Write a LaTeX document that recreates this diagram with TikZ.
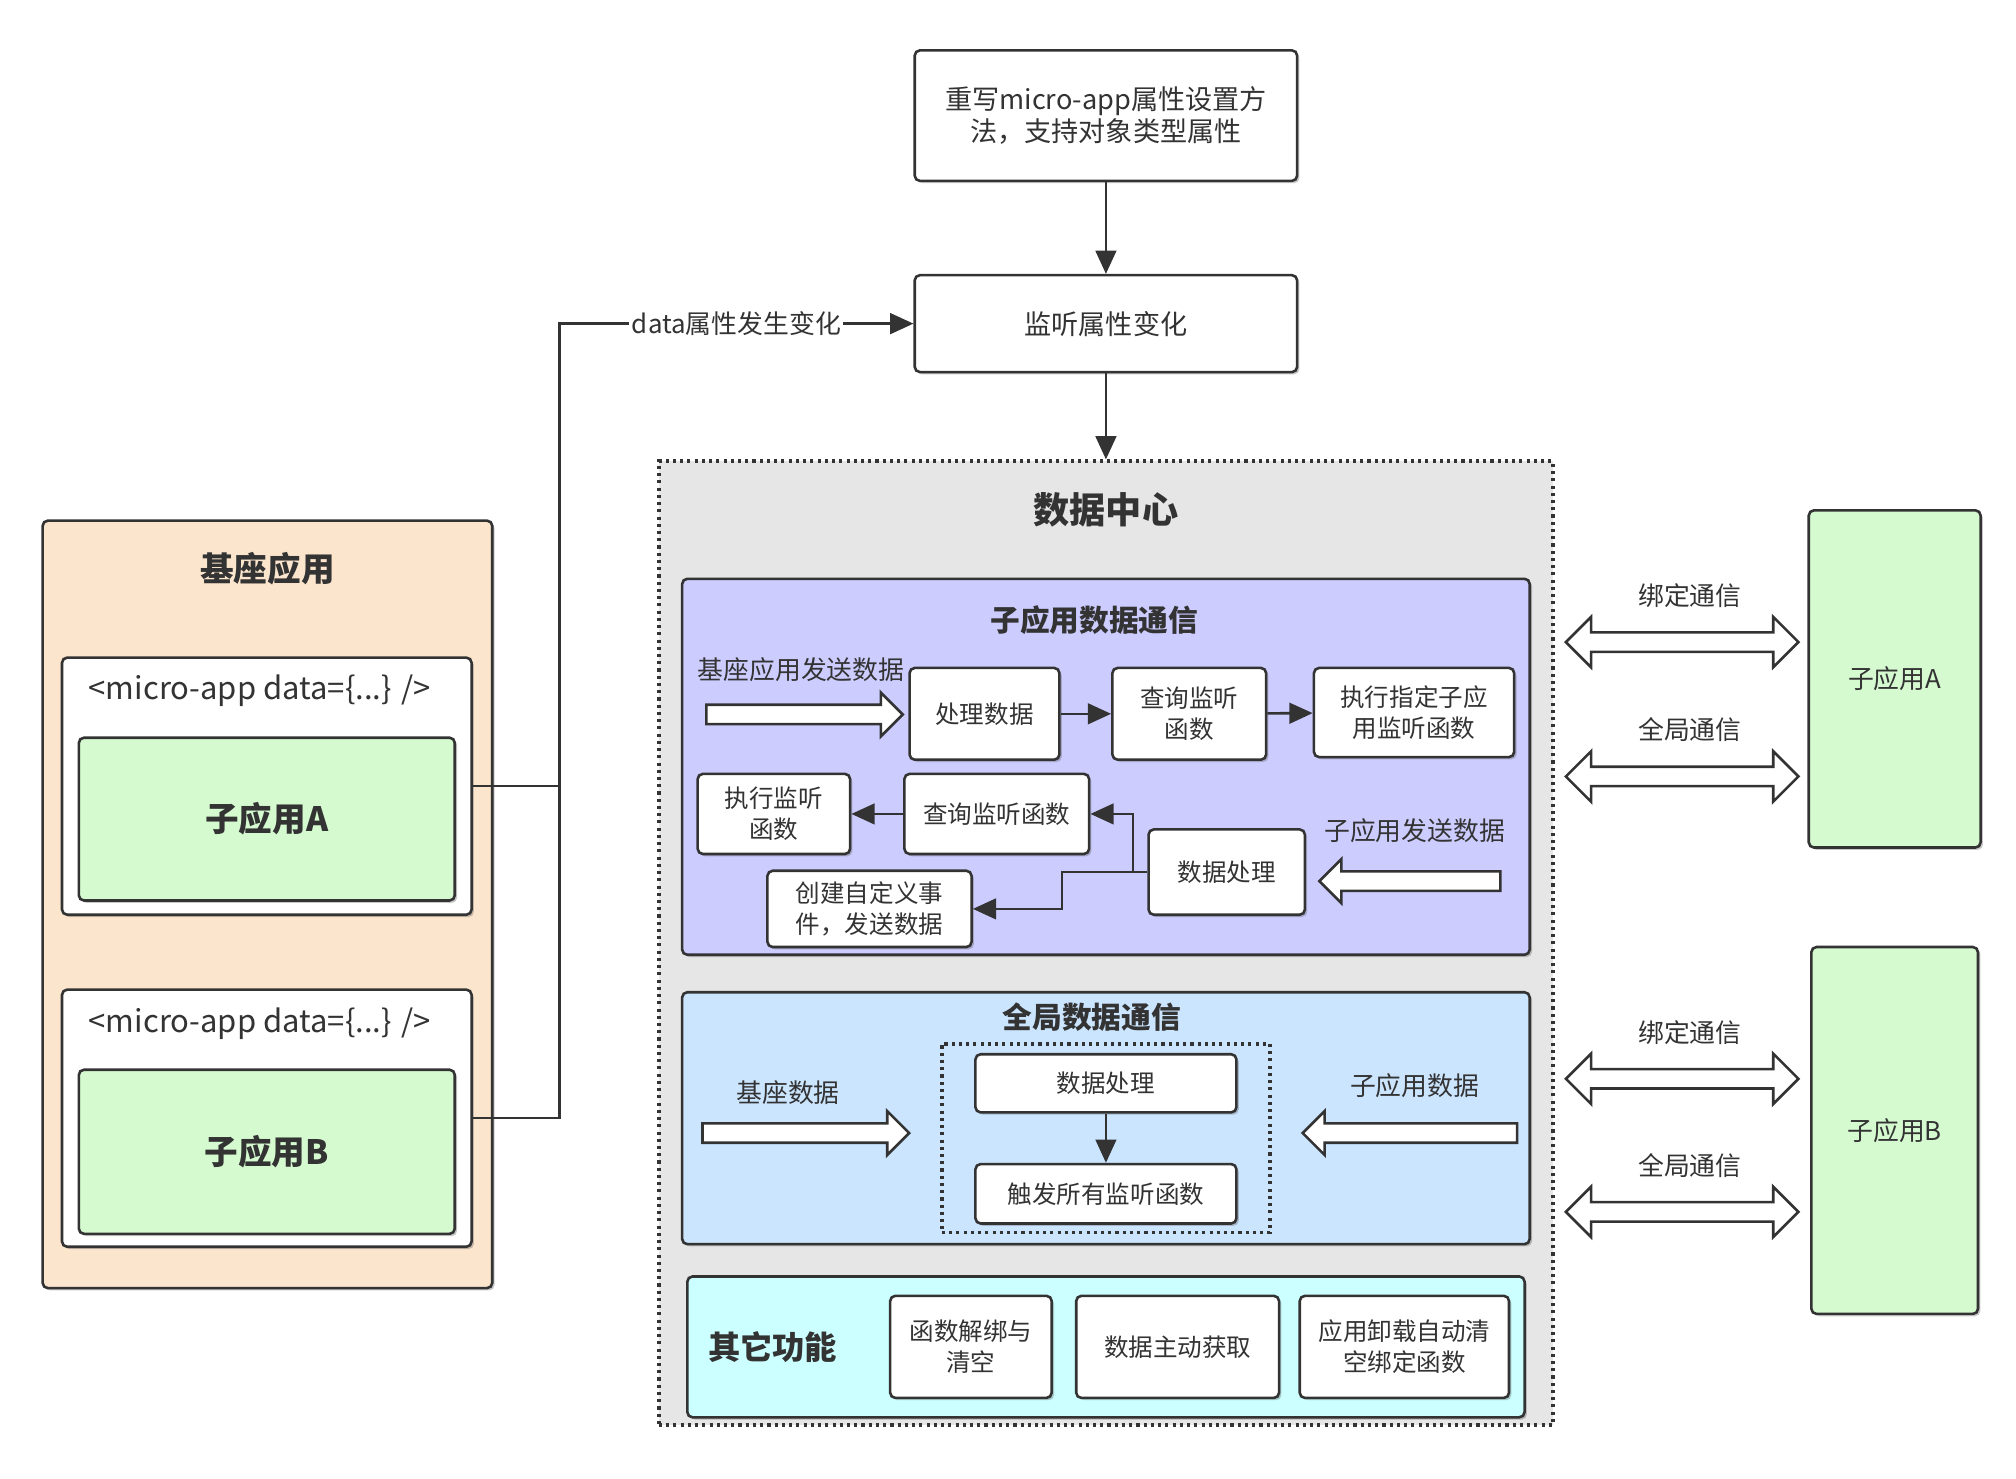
\documentclass[tikz,border=0pt]{standalone}
\usepackage{fontspec}
\setmainfont{Noto Sans CJK SC}
\usepackage{tikz}
\usetikzlibrary{arrows.meta,shapes.arrows,shadows}
\definecolor{linegray}{HTML}{333333}
\definecolor{centergray}{HTML}{E6E6E6}
\definecolor{subpurple}{HTML}{CCCCFF}
\definecolor{subblue}{HTML}{CCE5FF}
\definecolor{subcyan}{HTML}{CCFFFF}
\definecolor{basepeach}{HTML}{FBE5CD}
\definecolor{appgreen}{HTML}{D5FAD0}

\begin{document}
\begin{tikzpicture}[x=0.5pt, y=-0.5pt,
    every node/.style={text=linegray},
    shade box/.style={drop shadow={shadow xshift=0.9pt, shadow yshift=-0.9pt, opacity=0.3, fill=black!70}},
    box/.style={draw=linegray, fill=white, rounded corners=2pt, line width=1pt, inner sep=0pt,
        align=center, font=\fontsize{9.5}{12}\selectfont, shade box},
    panel/.style={draw=linegray, rounded corners=2pt, line width=1pt, inner sep=0pt, shade box},
    heading/.style={font=\bfseries\fontsize{11.5}{14}\selectfont},
    note/.style={font=\fontsize{10}{12}\selectfont},
    dots/.style={draw=linegray, line width=1.4pt, dash pattern=on 1.2pt off 1.6pt, inner sep=0pt},
    flow/.style={draw=linegray, line width=1pt, -{Triangle[length=9pt,width=8pt]}},
    hollow/.style={single arrow, draw=linegray, fill=white, line width=1pt,
        inner xsep=0pt, inner ysep=3.25pt, single arrow head extend=4.75pt},
    twoway/.style={double arrow, draw=linegray, fill=white, line width=1pt,
        inner xsep=0pt, inner ysep=3.25pt, double arrow head extend=6pt, minimum height=90pt}]
    \useasboundingbox (0,0) rectangle (1560.4,1144);

    % top chain
    \node[box, minimum width=148pt, minimum height=50.5pt, font=\fontsize{10.5}{12.5}\selectfont] (rewrite)
        at (856,89.5) {重写micro-app属性设置方\\法，支持对象类型属性};
    \node[box, minimum width=148pt, minimum height=37.5pt, font=\fontsize{10.5}{12.5}\selectfont] (watch)
        at (856,250.5) {监听属性变化};

    % data center
    \node[dots, fill=centergray, minimum width=346pt, minimum height=373pt] (center) at (856,730) {};
    \node[font=\bfseries\fontsize{14}{16}\selectfont] (centertitle) at (856,395) {数据中心};

    \node[panel, fill=subpurple, minimum width=328pt, minimum height=145.5pt] (subcomm) at (856,593.5) {};
    \node[heading] (subtitle) at (847,480) {子应用数据通信};
    \node[note] (basesend) at (620,518) {基座应用发送数据};
    \node[hollow, minimum height=76pt] (basein) at (619,553) {};
    \node[box, minimum width=58pt, minimum height=35.5pt] (handle) at (762,552.5) {处理数据};
    \node[box, minimum width=59.5pt, minimum height=35.5pt] (query) at (920.5,552.5) {查询监听\\函数};
    \node[box, minimum width=77.5pt, minimum height=34.5pt] (runsub) at (1094.5,551.5) {执行指定子应\\用监听函数};
    \node[box, minimum width=59pt, minimum height=31pt] (runlisten) at (599,630) {执行监听\\函数};
    \node[box, minimum width=71.5pt, minimum height=31pt] (querytwo) at (771.5,630) {查询监听函数};
    \node[box, minimum width=60.5pt, minimum height=33pt] (process) at (949.5,675) {数据处理};
    \node[box, minimum width=79pt, minimum height=29.5pt] (event) at (673,703.5) {创建自定义事\\件，发送数据};
    \node[note] (subsend) at (1095,643) {子应用发送数据};
    \node[hollow, shape border rotate=180, minimum height=70pt] (subin) at (1095,682) {};
    \coordinate (split) at (877,675);
    \coordinate (drop) at (822,675);
    \draw[flow] (handle) -- (query);
    \draw[flow] (query) -- (runsub);
    \draw[flow] (querytwo) -- (runlisten);
    \draw[flow] (process.west) -- (split) |- (querytwo.east);
    \draw[flow] (process.west) -- (drop) |- (event.east);

    \node[panel, fill=subblue, minimum width=328pt, minimum height=97.5pt] (globalcomm) at (856,865.5) {};
    \node[heading] (globaltitle) at (845,787) {全局数据通信};
    \node[note] (basedata) at (610,846) {基座数据};
    \node[hollow, minimum height=80pt] (basedatain) at (620,877) {};
    \node[note] (subdata) at (1095,840) {子应用数据};
    \node[hollow, shape border rotate=180, minimum height=83pt] (subdatain) at (1095,877) {};
    \node[dots, minimum width=127pt, minimum height=73pt] (globalgroup) at (856,881) {};
    \node[box, minimum width=101pt, minimum height=22.5pt] (globalprocess) at (856,838.5) {数据处理};
    \node[box, minimum width=101pt, minimum height=23pt] (trigger) at (856,924) {触发所有监听函数};
    \draw[flow] (globalprocess) -- (trigger);

    \node[panel, fill=subcyan, minimum width=324pt, minimum height=54.5pt] (others) at (856,1042.5) {};
    \node[font=\bfseries\fontsize{12.5}{14}\selectfont] (otherstitle) at (598,1043) {其它功能};
    \node[box, minimum width=62.5pt, minimum height=39.5pt] (unbind) at (751.5,1042.5) {函数解绑与\\清空};
    \node[box, minimum width=78.5pt, minimum height=39.5pt] (fetch) at (911.5,1042.5) {数据主动获取};
    \node[box, minimum width=81pt, minimum height=39.5pt] (unmount) at (1087,1042.5) {应用卸载自动清\\空绑定函数};

    \draw[flow] (rewrite) -- (watch);
    \draw[flow] (watch) -- (center.north);

    % base app
    \node[panel, fill=basepeach, minimum width=174pt, minimum height=297pt] (base) at (207,700) {};
    \node[font=\bfseries\fontsize{13}{15}\selectfont] (basetitle) at (207,440) {基座应用};
    \node[panel, fill=white, minimum width=158.5pt, minimum height=99.5pt] (tagA) at (206.5,608.5) {};
    \node[font=\fontsize{12}{14}\selectfont] (tagAtext) at (201,535) {<micro-app data=\{...\} />};
    \node[panel, fill=appgreen, minimum width=145.5pt, minimum height=63pt,
        font=\bfseries\fontsize{13}{15}\selectfont] (appA) at (206.5,634) {子应用A};
    \node[panel, fill=white, minimum width=158.5pt, minimum height=99.5pt] (tagB) at (206.5,865.5) {};
    \node[font=\fontsize{12}{14}\selectfont] (tagBtext) at (201,792) {<micro-app data=\{...\} />};
    \node[panel, fill=appgreen, minimum width=145.5pt, minimum height=63.5pt,
        font=\bfseries\fontsize{13}{15}\selectfont] (appB) at (206.5,891.5) {子应用B};
    \coordinate (busA) at (433,608.5);
    \coordinate (busB) at (433,865.5);
    \coordinate (bustop) at (433,250.5);
    \draw[line width=1pt, draw=linegray] (tagA.east) -- (busA);
    \draw[flow] (tagB.east) -- (busB) -- (bustop)
        -- node[note, fill=white, inner sep=1pt] {data属性发生变化} (watch.west);

    % sub apps
    \node[panel, fill=appgreen, minimum width=66.5pt, minimum height=130.5pt, note] (rightA) at (1466.5,525.5) {子应用A};
    \node[panel, fill=appgreen, minimum width=64.5pt, minimum height=142pt, note] (rightB) at (1466.5,875) {子应用B};
    \node[twoway] (bindA) at (1302,497) {};
    \node[twoway] (globalA) at (1302,601) {};
    \node[twoway] (bindB) at (1302,835) {};
    \node[twoway] (globalB) at (1302,938) {};
    \node[note] (bindAtext) at (1308,461) {绑定通信};
    \node[note] (globalAtext) at (1308,565) {全局通信};
    \node[note] (bindBtext) at (1308,799) {绑定通信};
    \node[note] (globalBtext) at (1308,902) {全局通信};
\end{tikzpicture}
\end{document}
